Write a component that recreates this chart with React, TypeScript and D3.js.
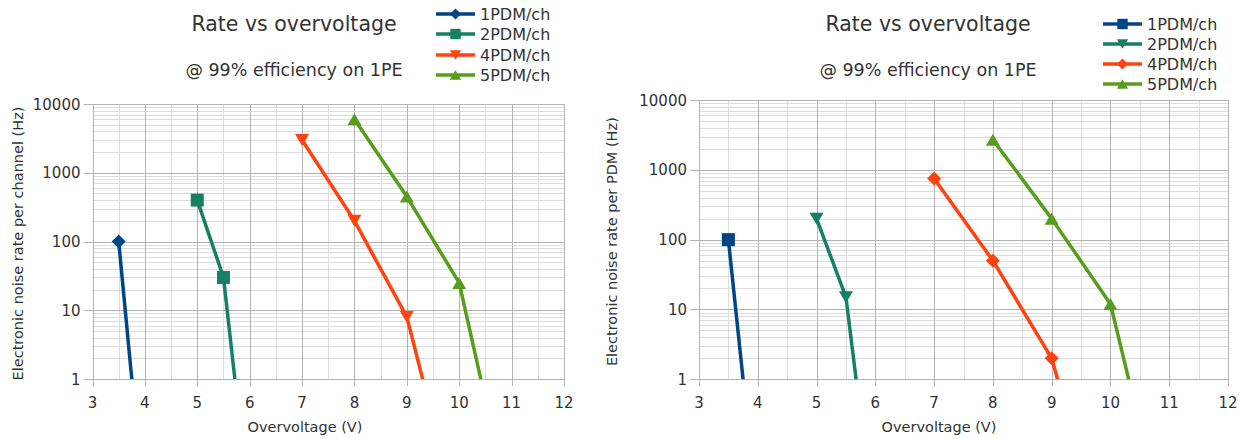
import React from "react";
import * as d3 from "d3";

// Axis ticks shared by both panels
const voltageTicks = [3, 4, 5, 6, 7, 8, 9, 10, 11, 12];
const rateTicks = [1, 10, 100, 1000, 10000];

const seriesNames = ["1PDM/ch", "2PDM/ch", "4PDM/ch", "5PDM/ch"];
const seriesColors = ["#004586", "#168062", "#ff420e", "#579d1c"];

// Noise rate per channel (Hz) vs overvoltage (V); last point of each falls below 1 Hz
const chVolt1 = [3.5, 4];
const chRate1 = [100, 0.01];
const chVolt2 = [5, 5.5, 6];
const chRate2 = [400, 30, 0.012];
const chVolt4 = [7, 8, 9, 10];
const chRate4 = [3000, 200, 8, 0.008];
const chVolt5 = [8, 9, 10, 11];
const chRate5 = [6000, 450, 25, 0.01];

// Noise rate per PDM (Hz) vs overvoltage (V)
const pdmVolt1 = [3.5, 4];
const pdmRate1 = [100, 0.01];
const pdmVolt2 = [5, 5.5, 6];
const pdmRate2 = [200, 15, 0.006];
const pdmVolt4 = [7, 8, 9, 10];
const pdmRate4 = [750, 50, 2, 0.002];
const pdmVolt5 = [8, 9, 10, 11];
const pdmRate5 = [2700, 200, 12, 0.004];

type Shape = "diamond" | "square" | "triDown" | "triUp";

const markerPath = (shape: Shape, k = 1): string => {
  const s = (v: number) => v * k;
  switch (shape) {
    case "diamond":
      return `M0,${s(-7)}L${s(7)},0L0,${s(7)}L${s(-7)},0Z`;
    case "square":
      return `M${s(-6.5)},${s(-6.5)}H${s(6.5)}V${s(6.5)}H${s(-6.5)}Z`;
    case "triDown":
      return `M0,${s(6)}L${s(7)},${s(-6)}L${s(-7)},${s(-6)}Z`;
    case "triUp":
      return `M0,${s(-6)}L${s(7)},${s(6)}L${s(-7)},${s(6)}Z`;
  }
};

type Series = { name: string; color: string; shape: Shape; volt: number[]; rate: number[] };

const zip = (v: number[], r: number[]) => v.map((x, i) => ({ x, y: r[i] }));

const FONT = "'DejaVu Sans', sans-serif";
const TEXT = "#333333";

type PanelProps = {
  id: string;
  plot: { x0: number; x1: number; y0: number; y1: number };
  titleX: number;
  yTitle: string;
  yTitleX: number;
  xTitleX: number;
  legend: { x: number; rows: number[] };
  titleBase: number;
  subBase: number;
  series: Series[];
};

const Panel = ({ id, plot, titleX, yTitle, yTitleX, xTitleX, legend, titleBase, subBase, series }: PanelProps) => {
  const x = d3.scaleLinear().domain([3, 12]).range([plot.x0, plot.x1]);
  const y = d3.scaleLog().domain([1, 10000]).range([plot.y1, plot.y0]);
  const crisp = (v: number) => Math.round(v) + 0.5;

  const minorX = d3.range(3.5, 12, 1);
  const minorY: number[] = [];
  for (let d = 1; d < 10000; d *= 10) for (let m = 2; m <= 9; m++) minorY.push(d * m);

  const line = d3
    .line<{ x: number; y: number }>()
    .x((d) => x(d.x))
    .y((d) => y(d.y));

  const inside = (p: { x: number; y: number }) => p.y >= 1 && p.y <= 10000 && p.x >= 3 && p.x <= 12;
  const yMid = (plot.y0 + plot.y1) / 2;

  return (
    <g>
      <defs>
        <clipPath id={id}>
          <rect x={plot.x0} y={plot.y0} width={plot.x1 - plot.x0} height={plot.y1 - plot.y0} />
        </clipPath>
      </defs>
      {/* minor grid */}
      {minorX.map((v) => (
        <line key={"mx" + v} x1={crisp(x(v))} x2={crisp(x(v))} y1={plot.y0} y2={plot.y1} stroke="#dddddd" />
      ))}
      {minorY.map((v) => (
        <line key={"my" + v} x1={plot.x0} x2={plot.x1} y1={crisp(y(v))} y2={crisp(y(v))} stroke="#dddddd" />
      ))}
      {/* major grid */}
      {voltageTicks.map((v) => (
        <line key={"gx" + v} x1={crisp(x(v))} x2={crisp(x(v))} y1={plot.y0} y2={plot.y1 + 7} stroke="#b3b3b3" />
      ))}
      {rateTicks.map((v) => (
        <line key={"gy" + v} x1={plot.x0 - 9} x2={plot.x1} y1={crisp(y(v))} y2={crisp(y(v))} stroke="#b3b3b3" />
      ))}
      {/* tick labels */}
      {rateTicks.map((v) => (
        <text key={"ty" + v} x={plot.x0 - 12} y={y(v) + 5.5} textAnchor="end" fontSize={15} fontFamily={FONT} fill={TEXT}>
          {v}
        </text>
      ))}
      {voltageTicks.map((v) => (
        <text key={"tx" + v} x={x(v)} y={408} textAnchor="middle" fontSize={15} fontFamily={FONT} fill={TEXT}>
          {v}
        </text>
      ))}
      {/* axis titles */}
      <text x={xTitleX} y={432} textAnchor="middle" fontSize={14.5} fontFamily={FONT} fill={TEXT}>
        Overvoltage (V)
      </text>
      <text
        transform={`translate(${yTitleX},${yMid + 2}) rotate(-90)`}
        textAnchor="middle"
        dominantBaseline="central"
        fontSize={14.5}
        fontFamily={FONT}
        fill={TEXT}
      >
        {yTitle}
      </text>
      {/* series */}
      <g clipPath={`url(#${id})`}>
        {series.map((s) => (
          <path
            key={s.name}
            d={line(zip(s.volt, s.rate)) ?? ""}
            fill="none"
            stroke={s.color}
            strokeWidth={3.5}
            strokeLinejoin="round"
          />
        ))}
      </g>
      {series.map((s) =>
        zip(s.volt, s.rate)
          .filter(inside)
          .map((p, i) => (
            <path key={s.name + i} d={markerPath(s.shape)} transform={`translate(${x(p.x)},${y(p.y)})`} fill={s.color} />
          ))
      )}
      {/* titles */}
      <text x={titleX} y={titleBase} textAnchor="middle" fontSize={20.5} fontFamily={FONT} fill={TEXT}>
        Rate vs overvoltage
      </text>
      <text x={titleX} y={subBase} textAnchor="middle" fontSize={17.5} fontFamily={FONT} fill={TEXT}>
        @ 99% efficiency on 1PE
      </text>
      {/* legend */}
      {series.map((s, i) => (
        <g key={"lg" + s.name} transform={`translate(${legend.x},${legend.rows[i]})`}>
          <line x1={0} x2={39} y1={0} y2={0} stroke={s.color} strokeWidth={3.5} />
          <path d={markerPath(s.shape, 0.8)} transform="translate(19.5,0)" fill={s.color} />
          <text x={44} y={5.8} fontSize={16} fontFamily={FONT} fill={TEXT}>
            {s.name}
          </text>
        </g>
      ))}
    </g>
  );
};

const channelSeries: Series[] = [
  { name: seriesNames[0], color: seriesColors[0], shape: "diamond", volt: chVolt1, rate: chRate1 },
  { name: seriesNames[1], color: seriesColors[1], shape: "square", volt: chVolt2, rate: chRate2 },
  { name: seriesNames[2], color: seriesColors[2], shape: "triDown", volt: chVolt4, rate: chRate4 },
  { name: seriesNames[3], color: seriesColors[3], shape: "triUp", volt: chVolt5, rate: chRate5 },
];

const pdmSeries: Series[] = [
  { name: seriesNames[0], color: seriesColors[0], shape: "square", volt: pdmVolt1, rate: pdmRate1 },
  { name: seriesNames[1], color: seriesColors[1], shape: "triDown", volt: pdmVolt2, rate: pdmRate2 },
  { name: seriesNames[2], color: seriesColors[2], shape: "diamond", volt: pdmVolt4, rate: pdmRate4 },
  { name: seriesNames[3], color: seriesColors[3], shape: "triUp", volt: pdmVolt5, rate: pdmRate5 },
];

export default function App() {
  return (
    <svg
      width={1248}
      height={439}
      style={{ position: "absolute", left: 0, top: 0, background: "#ffffff" }}
    >
      <rect width={1248} height={439} fill="#ffffff" />
      <Panel
        id="clip-channel"
        plot={{ x0: 92.5, x1: 564, y0: 104, y1: 379 }}
        titleX={294}
        titleBase={31}
        subBase={76}
        yTitle="Electronic noise rate per channel (Hz)"
        yTitleX={18}
        xTitleX={305}
        legend={{ x: 436, rows: [14, 34, 55, 75] }}
        series={channelSeries}
      />
      <Panel
        id="clip-pdm"
        plot={{ x0: 699, x1: 1228, y0: 100, y1: 379.3 }}
        titleX={928}
        titleBase={31}
        subBase={76}
        yTitle="Electronic noise rate per PDM (Hz)"
        yTitleX={612}
        xTitleX={939}
        legend={{ x: 1103, rows: [24, 44, 64, 84] }}
        series={pdmSeries}
      />
    </svg>
  );
}
